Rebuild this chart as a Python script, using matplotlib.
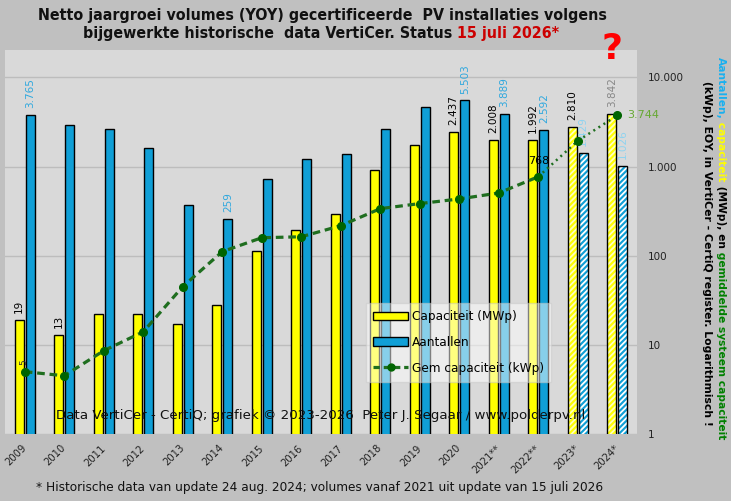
#!/usr/bin/env python3
"""
Netto jaargroei VertiCer - capaciteit, aantallen en gemiddelde systeemcapaciteit (log).
"""

import matplotlib

matplotlib.use("Agg")
import matplotlib.pyplot as plt
import numpy as np
from matplotlib.lines import Line2D
from matplotlib.patches import Patch
from matplotlib.ticker import FuncFormatter, NullLocator

# Data
years = ["2009", "2010", "2011", "2012", "2013", "2014", "2015", "2016", "2017",
         "2018", "2019", "2020", "2021**", "2022**", "2023*", "2024*"]
capacity_mwp = [19, 13, 22, 22, 17, 28, 114, 196, 297, 925, 1766, 2437, 2008, 1992, 2810, 3842]
installations = [3765, 2890, 2606, 1593, 374, 259, 732, 1200, 1400, 2670, 4630, 5503, 3889, 2592, 1429, 1026]
avg_kwp = [5.0, 4.5, 8.6, 14, 45, 111, 159, 163, 217, 337, 384, 433, 505, 768, 1940, 3744]

# which bars get a value label
cap_labelled = [0, 1, 11, 12, 13, 14, 15]
cnt_labelled = [0, 5, 11, 12, 13, 14, 15]
first_estimate = 14  # 2023* and 2024* are hatched

W, H = 731, 501
BG = "#c0c0c0"
PANEL = "#d9d9d9"
YELLOW = "#ffff00"
BLUE = "#109fd6"
GREEN_LINE = "#1f6e1f"
GREEN_DOT = "#006400"
CYAN_TXT = "#2fa8de"
PALE_CYAN = "#8fd3f0"


def fmt(v):
    return f"{int(round(v)):,}".replace(",", ".")


def text_width(fig, s, size, **kw):
    r = fig.canvas.get_renderer()
    t = fig.text(0, 0, s, fontsize=size, **kw)
    w = t.get_window_extent(r).width
    t.remove()
    return w


def seg_text(fig, segments, x0, y0, size, vertical=False, centred=False, **kw):
    """Draw coloured pieces of text one after another, starting (or centred) at pixel (x0, y0)."""
    if centred:
        total = text_width(fig, "".join(s for s, c in segments), size, **kw)
        if vertical:
            y0 -= total / 2
        else:
            x0 -= total / 2
    done = ""
    for text, color in segments:
        shift = text_width(fig, done, size, **kw) if done else 0
        if vertical:
            fig.text(x0 / W, 1 - (y0 + shift) / H, text, color=color, fontsize=size,
                     rotation=270, rotation_mode="anchor", ha="left", va="center", **kw)
        else:
            fig.text((x0 + shift) / W, 1 - y0 / H, text, color=color, fontsize=size,
                     ha="left", va="baseline", **kw)
        done += text


fig = plt.figure(figsize=(W / 100, H / 100), dpi=100, facecolor=BG)
ax = fig.add_axes([5 / W, 1 - 434 / H, 632 / W, 384 / H])
ax.set_facecolor(PANEL)
ax.set_yscale("log")
ax.set_ylim(1, 10 ** 4.307)
ax.set_xlim(-0.5, len(years) - 0.5)
for s in ax.spines.values():
    s.set_visible(False)

x = np.arange(len(years))
bw = 0.23
off = 0.14
cap = np.array(capacity_mwp, dtype=float)
cnt = np.array(installations, dtype=float)
k = first_estimate

# solid bars
ax.bar(x[:k] - off, cap[:k], bw, color=YELLOW, edgecolor="black", linewidth=1, zorder=2)
ax.bar(x[:k] + off, cnt[:k], bw, color=BLUE, edgecolor="black", linewidth=1, zorder=2)

# hatched bars (estimates)
plt.rcParams["hatch.linewidth"] = 1.3
ax.bar(x[k:] - off, cap[k:], bw, color=YELLOW, edgecolor="#ffffc0", hatch="//////", linewidth=0, zorder=2)
ax.bar(x[k:] - off, cap[k:], bw, fill=False, edgecolor="black", linewidth=1, zorder=2)
ax.bar(x[k:] + off, cnt[k:], bw, color=BLUE, edgecolor="white", hatch="//////", linewidth=0, zorder=2)
ax.bar(x[k:] + off, cnt[k:], bw, fill=False, edgecolor="black", linewidth=1, zorder=2)

# average capacity line
ax.plot(x[:14], avg_kwp[:14], color=GREEN_LINE, linewidth=2.3, dashes=(2.4, 1.5), zorder=4)
ax.plot(x[13:], avg_kwp[13:], color=GREEN_LINE, linewidth=1.8, linestyle=(0, (0.8, 1.6)), zorder=4)
ax.plot(x, avg_kwp, linestyle="none", marker="o", markersize=5.5, color=GREEN_DOT, zorder=5)

# value labels
for i in cap_labelled:
    col = "#888888" if i == 15 else "black"
    ax.annotate(fmt(cap[i]), (x[i] - off, cap[i]), xytext=(0, 5), textcoords="offset points",
                rotation=90, ha="center", va="bottom", fontsize=7.5, color=col, zorder=3)
for i in cnt_labelled:
    col = PALE_CYAN if i >= k else CYAN_TXT
    ax.annotate(fmt(cnt[i]), (x[i] + off, cnt[i]), xytext=(0, 5), textcoords="offset points",
                rotation=90, ha="center", va="bottom", fontsize=7.5, color=col, zorder=3)
ax.annotate(fmt(avg_kwp[0]), (x[0], avg_kwp[0]), xytext=(-1, 5), textcoords="offset points",
            rotation=90, ha="center", va="bottom", fontsize=6.5, color="#333333", zorder=3)
ax.annotate(fmt(avg_kwp[13]), (x[13], avg_kwp[13]), xytext=(0, 11), textcoords="offset points",
            ha="center", va="center", fontsize=8, color="black", zorder=3)
ax.annotate(fmt(avg_kwp[15]), (x[15], avg_kwp[15]), xytext=(7, 0), textcoords="offset points",
            ha="left", va="center", fontsize=8, color="#66a832", zorder=6, annotation_clip=False)

# axes
ax.yaxis.tick_right()
ax.set_yticks([1, 10, 100, 1000, 10000])
ax.yaxis.set_major_formatter(FuncFormatter(lambda v, p: fmt(v)))
ax.yaxis.set_minor_locator(NullLocator())
ax.tick_params(axis="y", length=0, pad=8, labelsize=7.5, labelcolor="#222222")
ax.grid(axis="y", color="#bdbdbd", linewidth=1)
ax.set_axisbelow(True)

ax.set_xticks(x)
ax.set_xticklabels(years, rotation=45, ha="right", va="center", rotation_mode="anchor", fontsize=7.2)
ax.tick_params(axis="x", length=0, pad=9, labelcolor="#222222")

# legend
handles = [
    Patch(facecolor=YELLOW, edgecolor="black", linewidth=1),
    Patch(facecolor=BLUE, edgecolor="black", linewidth=1),
    Line2D([], [], color=GREEN_LINE, linewidth=2.3, dashes=(2.0, 1.2), marker="o",
           markersize=5, markerfacecolor=GREEN_DOT, markeredgecolor=GREEN_DOT),
]
leg = ax.legend(handles, ["Capaciteit (MWp)", "Aantallen", "Gem capaciteit (kWp)"],
                loc="upper left", bbox_to_anchor=(366 / W, 1 - 303 / H), bbox_transform=fig.transFigure,
                borderaxespad=0, fontsize=8.7, handlelength=2.9, handleheight=0.7, handletextpad=0.3,
                labelspacing=1.05, borderpad=0.6, fancybox=False, framealpha=0.5,
                facecolor="white", edgecolor="#c8c8c8")
leg.set_zorder(7)

# texts
fig.text(321 / W, 1 - 415 / H, "Data VertiCer - CertiQ; grafiek © 2023-2026  Peter J. Segaar / www.polderpv.nl",
         ha="center", va="center", fontsize=9.6, color="#111111", zorder=8)
fig.text(320 / W, 1 - 488 / H,
         "* Historische data van update 24 aug. 2024; volumes vanaf 2021 uit update van 15 juli 2026",
         ha="center", va="center", fontsize=8.7, color="#111111")
fig.text(612 / W, 1 - 49 / H, "?", ha="center", va="center", fontsize=26, fontweight="bold", color="#ff0000")

title_kw = dict(fontweight="bold", fontstretch="condensed")
fig.text(322 / W, 1 - 20 / H, "Netto jaargroei volumes (YOY) gecertificeerde  PV installaties volgens",
         ha="center", va="baseline", fontsize=11.4, color="#111111", **title_kw)
seg_text(fig, [("bijgewerkte historische  data VertiCer. Status", "#111111"), (" 15 juli 2026*", "#cc0000")],
         321, 38, 11.4, centred=True, **title_kw)

# right-hand axis title, two lines written top to bottom, centred on the panel
side_kw = dict(fontweight="bold")
seg_text(fig, [("Aantallen,", "#19b0f0"), (" capaciteit", "#ffff00"), (" (MWp), en", "black"),
               (" gemiddelde systeem capaciteit", "#008000")], 721, 248, 7.7,
         vertical=True, centred=True, **side_kw)
seg_text(fig, [("(kWp), EOY, in VertiCer - CertiQ register. Logarithmisch !", "black")],
         707, 253, 7.8, vertical=True, centred=True, **side_kw)

fig.savefig("out.png", dpi=100, facecolor=BG)
